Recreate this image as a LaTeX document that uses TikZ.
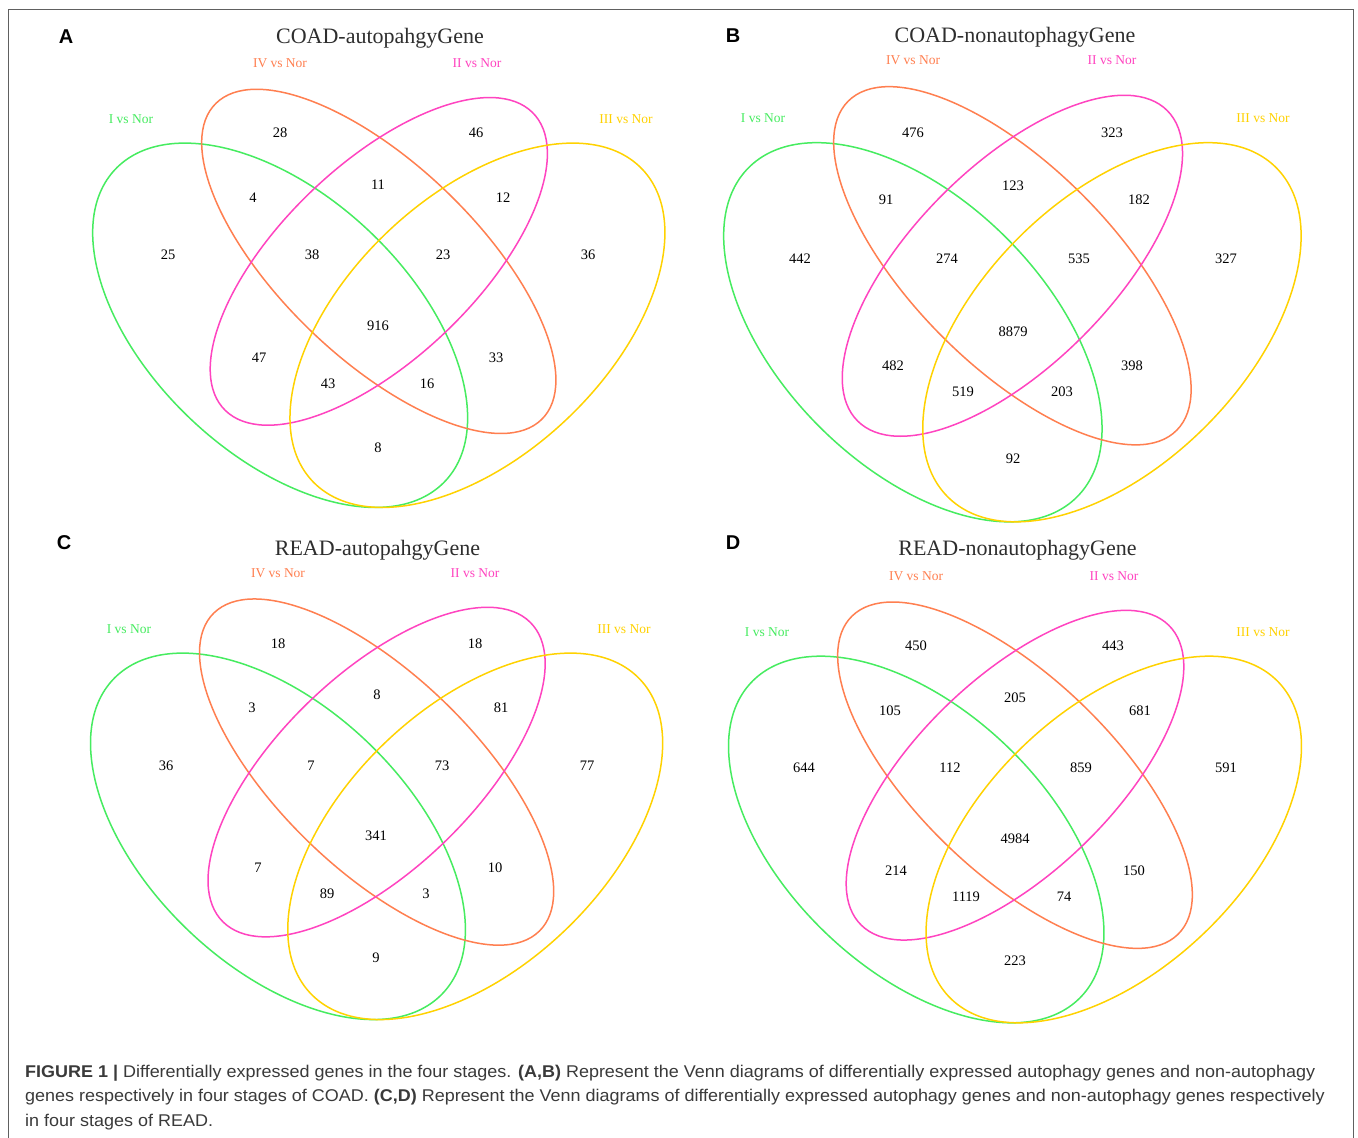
\documentclass[tikz,border=0pt]{standalone}
\usepackage{fontspec}
\usepackage{graphicx}
\setmainfont{Liberation Serif}
\newfontfamily\capfont{Liberation Sans}
\definecolor{cI}{HTML}{46EC60}
\definecolor{cIV}{HTML}{FF7F50}
\definecolor{cII}{HTML}{FF44C0}
\definecolor{cIII}{HTML}{FFD200}
\definecolor{captxt}{HTML}{3A3A3A}
\definecolor{frame}{HTML}{606060}
\newlength\capw
\newcommand\capone{\textbf{FIGURE 1 |} Differentially expressed genes in the four stages. \textbf{(A,B)} Represent the Venn diagrams of differentially expressed autophagy genes and non-autophagy}
\newcommand\captwo{genes respectively in four stages of COAD. \textbf{(C,D)} Represent the Venn diagrams of differentially expressed autophagy genes and non-autophagy genes respectively}
\newcommand\capthree{in four stages of READ.}
\newcommand\capsize{\capfont\fontsize{17}{20}\selectfont}
\newcommand\drawvenn[4]{%
  \begin{scope}[shift={(#1,-#2)},xscale=#3,yscale=#4]
    \draw[vline,cI,shift={(35,47)},rotate=-45] (0,0) ellipse [x radius=35,y radius=20];
    \draw[vline,cIV,shift={(50,57)},rotate=-45] (0,0) ellipse [x radius=35,y radius=15];
    \draw[vline,cII,shift={(50,57)},rotate=45] (0,0) ellipse [x radius=33,y radius=15];
    \draw[vline,cIII,shift={(65,47)},rotate=45] (0,0) ellipse [x radius=35,y radius=20];
  \end{scope}}
\begin{document}
\settowidth{\capw}{\capsize\capone}
\pgfmathsetmacro\capk{1290/\capw}
\begin{tikzpicture}[x=1pt,y=1pt,
  vline/.style={line width=1.5pt},
  num/.style={font={\fontsize{14.5}{16}\selectfont},inner sep=0pt,text=black},
  setlab/.style={font={\fontsize{13.5}{16}\selectfont},inner sep=0pt},
  ttl/.style={font={\fontsize{22}{26}\selectfont},text=black!82,anchor=base,inner sep=0pt},
  plet/.style={font={\capfont\bfseries\fontsize{20}{24}\selectfont},inner sep=0pt},
  capline/.style={anchor=base west,inner sep=0pt,text=captxt,font=\capsize}]
\fill[white] (0,0) rectangle (1358,-1138);
\useasboundingbox (0,0) rectangle (1358,-1138);
\draw[frame,line width=1pt] (8,-1138) -- (8,-9) -- (1353,-9) -- (1353,-1138);
% ellipses
\drawvenn{50.0}{625.6}{6.576}{6.39}
\drawvenn{680.6}{644.8}{6.636}{6.65}
\drawvenn{47.85}{1138.4}{6.575}{6.427}
\drawvenn{685.8}{1141.7}{6.584}{6.43}
% panel letters
\node[plet] (LA) at (66,-37) {A};
\node[plet] (LB) at (733,-36) {B};
\node[plet] (LC) at (64,-543) {C};
\node[plet] (LD) at (733,-543) {D};
% titles
\node[ttl] (TA) at (380,-43.5) {COAD-autopahgyGene};
\node[ttl] (TB) at (1015,-42.5) {COAD-nonautophagyGene};
\node[ttl] (TC) at (377.5,-555) {READ-autopahgyGene};
\node[ttl] (TD) at (1017.5,-555) {READ-nonautophagyGene};
% set labels
\node[setlab,text=cI] (A-I) at (131,-119) {I vs Nor};
\node[setlab,text=cIV] (A-IV) at (280,-63) {IV vs Nor};
\node[setlab,text=cII] (A-II) at (477,-63) {II vs Nor};
\node[setlab,text=cIII] (A-III) at (626,-119) {III vs Nor};
\node[setlab,text=cI] (B-I) at (763,-118) {I vs Nor};
\node[setlab,text=cIV] (B-IV) at (913,-60) {IV vs Nor};
\node[setlab,text=cII] (B-II) at (1112,-60) {II vs Nor};
\node[setlab,text=cIII] (B-III) at (1263,-118) {III vs Nor};
\node[setlab,text=cI] (C-I) at (129,-629) {I vs Nor};
\node[setlab,text=cIV] (C-IV) at (278,-573) {IV vs Nor};
\node[setlab,text=cII] (C-II) at (475,-573) {II vs Nor};
\node[setlab,text=cIII] (C-III) at (624,-629) {III vs Nor};
\node[setlab,text=cI] (D-I) at (767,-632) {I vs Nor};
\node[setlab,text=cIV] (D-IV) at (916,-576) {IV vs Nor};
\node[setlab,text=cII] (D-II) at (1114,-576) {II vs Nor};
\node[setlab,text=cIII] (D-III) at (1263,-632) {III vs Nor};
% numbers
\foreach \t/\x/\y [count=\i] in {28/280/133,46/476/133,4/253/198,11/378/185,12/503/198,25/168/255,38/312/255,23/443/255,36/588/255,916/378/326,47/259/358,33/496/358,43/328/384,16/427/384,8/378/448}
  \node[num] (nA\i) at (\x,-\y) {\t};
\foreach \t/\x/\y [count=\i] in {476/913/133,323/1112/133,91/886/200,123/1013/186,182/1139/200,442/800/259,274/947/259,535/1079/259,327/1226/259,8879/1013/332,482/893/366,398/1132/366,519/963/392,203/1062/392,92/1013/459}
  \node[num] (nB\i) at (\x,-\y) {\t};
\foreach \t/\x/\y [count=\i] in {18/278/644,18/475/644,3/252/708,8/377/695,81/501/708,36/166/766,7/311/766,73/442/766,77/587/766,341/376/836,7/258/868,10/495/868,89/327/894,3/426/894,9/376/958}
  \node[num] (nC\i) at (\x,-\y) {\t};
\foreach \t/\x/\y [count=\i] in {450/916/646,443/1113/646,105/890/711,205/1015/698,681/1140/711,644/804/768,112/950/768,859/1081/768,591/1226/768,4984/1015/839,214/896/871,150/1134/871,1119/966/897,74/1064/897,223/1015/961}
  \node[num] (nD\i) at (\x,-\y) {\t};
% caption
\node[capline] (cap1) at (25,-1077) {\scalebox{\capk}[1]{\capone}};
\node[capline] (cap2) at (25,-1101.5) {\scalebox{\capk}[1]{\captwo}};
\node[capline] (cap3) at (25,-1126) {\scalebox{\capk}[1]{\capthree}};
\end{tikzpicture}
\end{document}
